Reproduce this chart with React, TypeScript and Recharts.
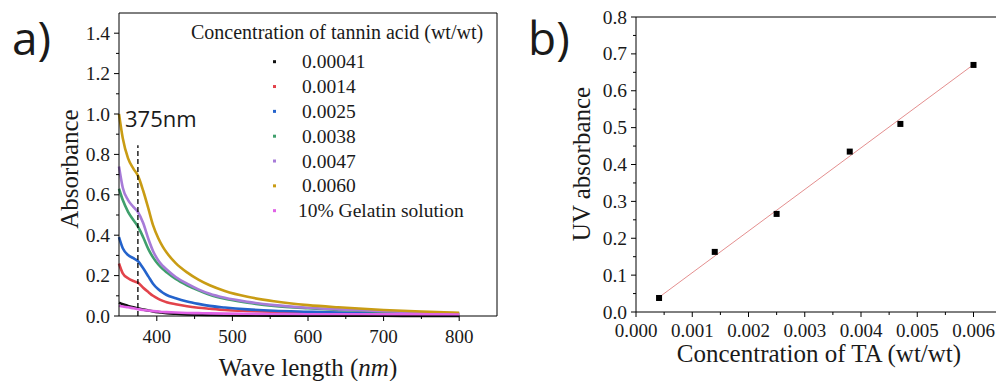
import React from "react";
import {
  LineChart, Line, XAxis, YAxis, ReferenceLine, ComposedChart, Scatter,
} from "recharts";

const SERIF = '"Liberation Serif", "Times New Roman", serif';
const SANS = '"Open Sans", sans-serif';
const INK = "#1a1a1a";

// ---- panel a) UV-vis spectra
const WAVELENGTH = [350, 355, 362, 369, 375, 382, 389, 395, 402, 408, 413, 425, 440, 455, 470, 490, 520, 555, 600, 640, 700, 750, 800];
const TA_00041 = [0.066, 0.058, 0.05, 0.043, 0.038, 0.032, 0.027, 0.023, 0.019, 0.016, 0.014, 0.011, 0.008, 0.006, 0.005, 0.004, 0.003, 0.002, 0.002, 0.001, 0.001, 0, 0];
const TA_0014 = [0.26, 0.211, 0.187, 0.173, 0.165, 0.14, 0.118, 0.1, 0.085, 0.075, 0.068, 0.058, 0.048, 0.041, 0.036, 0.03, 0.025, 0.021, 0.017, 0.014, 0.011, 0.008, 0.006];
const TA_0025 = [0.39, 0.335, 0.302, 0.286, 0.272, 0.236, 0.195, 0.16, 0.132, 0.115, 0.104, 0.088, 0.072, 0.06, 0.05, 0.042, 0.033, 0.026, 0.021, 0.017, 0.013, 0.01, 0.008];
const TA_0038 = [0.63, 0.574, 0.516, 0.475, 0.443, 0.39, 0.33, 0.29, 0.255, 0.232, 0.216, 0.183, 0.152, 0.127, 0.105, 0.085, 0.066, 0.05, 0.038, 0.03, 0.021, 0.015, 0.011];
const TA_0047 = [0.74, 0.635, 0.574, 0.54, 0.515, 0.46, 0.38, 0.322, 0.275, 0.248, 0.23, 0.193, 0.16, 0.132, 0.11, 0.09, 0.07, 0.054, 0.041, 0.033, 0.024, 0.017, 0.013];
const TA_0060 = [1.0, 0.88, 0.78, 0.73, 0.695, 0.62, 0.53, 0.45, 0.385, 0.342, 0.314, 0.262, 0.216, 0.18, 0.152, 0.124, 0.095, 0.073, 0.054, 0.043, 0.03, 0.022, 0.016];
const GELATIN = [0.051, 0.047, 0.043, 0.038, 0.034, 0.03, 0.027, 0.024, 0.022, 0.02, 0.019, 0.017, 0.015, 0.014, 0.013, 0.012, 0.011, 0.01, 0.009, 0.009, 0.008, 0.008, 0.007];

const SPECTRA = [
  { key: "s1", label: "0.00041", color: "#111111", values: TA_00041 },
  { key: "s2", label: "0.0014", color: "#e2434b", values: TA_0014 },
  { key: "s3", label: "0.0025", color: "#2463cc", values: TA_0025 },
  { key: "s4", label: "0.0038", color: "#3f9f6c", values: TA_0038 },
  { key: "s5", label: "0.0047", color: "#a77bd8", values: TA_0047 },
  { key: "s6", label: "0.0060", color: "#c99c14", values: TA_0060 },
  { key: "s7", label: "10% Gelatin solution", color: "#e062e6", values: GELATIN },
];

const WL_TICKS = [400, 450, 500, 550, 600, 650, 700, 750, 800];
const ABS_TICKS = [0, 0.1, 0.2, 0.3, 0.4, 0.5, 0.6, 0.7, 0.8, 0.9, 1.0, 1.1, 1.2, 1.3, 1.4];

// ---- panel b) calibration
const CONC = [0.00041, 0.0014, 0.0025, 0.0038, 0.0047, 0.006];
const UV_ABS = [0.038, 0.163, 0.266, 0.435, 0.51, 0.67];
const FIT_CONC = [0.00041, 0.006];
const FIT_ABS = [0.04, 0.671];
const CONC_TICKS = [0, 0.0005, 0.001, 0.0015, 0.002, 0.0025, 0.003, 0.0035, 0.004, 0.0045, 0.005, 0.0055, 0.006];
const UV_TICKS = [0, 0.05, 0.1, 0.15, 0.2, 0.25, 0.3, 0.35, 0.4, 0.45, 0.5, 0.55, 0.6, 0.65, 0.7, 0.75, 0.8];

const spectraRows = WAVELENGTH.map((wl, i) => {
  const row: Record<string, number> = { wl };
  SPECTRA.forEach((s) => { row[s.key] = s.values[i]; });
  return row;
});
const pointRows = CONC.map((x, i) => ({ x, y: UV_ABS[i] }));
const fitRows = FIT_CONC.map((x, i) => ({ x, y: FIT_ABS[i] }));

// ticks drawn by hand so major / minor get different lengths
const bottomTick = (isMajor: (v: number) => boolean, fmt: (v: number) => string, dy: number) =>
  (props: any) => {
    const { x, y, payload } = props;
    const major = isMajor(payload.value);
    return (
      <g>
        <line x1={x} x2={x} y1={y} y2={y + (major ? 5 : 3)} stroke="#000" strokeWidth={1} />
        {major && (
          <text x={x} y={y + dy} textAnchor="middle" fontFamily={SERIF} fontSize={19} fill={INK}>
            {fmt(payload.value)}
          </text>
        )}
      </g>
    );
  };

const leftTick = (isMajor: (v: number) => boolean, fmt: (v: number) => string) =>
  (props: any) => {
    const { x, y, payload } = props;
    const major = isMajor(payload.value);
    return (
      <g>
        <line x1={x - (major ? 5 : 3)} x2={x} y1={y} y2={y} stroke="#000" strokeWidth={1} />
        {major && (
          <text x={x - 9} y={y + 6.5} textAnchor="end" fontFamily={SERIF} fontSize={19.5} fill={INK}>
            {fmt(payload.value)}
          </text>
        )}
      </g>
    );
  };

function SpectraChart() {
  return (
    <LineChart width={520} height={381} data={spectraRows} margin={{ top: 13, right: 23, bottom: 0, left: 0 }}>
      <XAxis
        dataKey="wl" type="number" domain={[350, 850]} ticks={WL_TICKS} interval={0}
        height={65} tickSize={0} tickMargin={0} tickLine={false}
        axisLine={{ stroke: "#000" }}
        tick={bottomTick((v) => v % 100 === 0, (v) => String(v), 27)}
      />
      <YAxis
        type="number" domain={[0, 1.5]} ticks={ABS_TICKS} interval={0}
        width={119} tickSize={0} tickMargin={0} tickLine={false}
        axisLine={{ stroke: "#000" }}
        tick={leftTick((v) => Math.round(v * 10) % 2 === 0, (v) => v.toFixed(1))}
      />
      <ReferenceLine y={1.5} stroke="#000" />
      <ReferenceLine x={850} stroke="#000" />
      {SPECTRA.map((s) => (
        <Line
          key={s.key} type="monotone" dataKey={s.key} stroke={s.color}
          strokeWidth={2.6} dot={false} isAnimationActive={false}
        />
      ))}
      <ReferenceLine
        segment={[{ x: 375, y: 0 }, { x: 375, y: 0.845 }]}
        stroke="#000" strokeWidth={1.3} strokeDasharray="5 3"
      />
    </LineChart>
  );
}

function CalibrationChart() {
  return (
    <ComposedChart width={466} height={381} margin={{ top: 17, right: 0, bottom: 0, left: 0 }}>
      <XAxis
        dataKey="x" type="number" domain={[0, 0.0064]} ticks={CONC_TICKS} interval={0}
        height={69} tickSize={0} tickMargin={0} tickLine={false}
        axisLine={{ stroke: "#000" }}
        tick={bottomTick((v) => Math.round(v * 10000) % 10 === 0, (v) => v.toFixed(3), 25)}
      />
      <YAxis
        type="number" domain={[0, 0.8]} ticks={UV_TICKS} interval={0}
        width={106} tickSize={0} tickMargin={0} tickLine={false}
        axisLine={{ stroke: "#000" }}
        tick={leftTick((v) => Math.round(v * 100) % 10 === 0, (v) => v.toFixed(1))}
      />
      <ReferenceLine y={0.8} stroke="#000" />
      <Line
        data={fitRows} dataKey="y" type="linear" stroke="#e48f8f" strokeWidth={1}
        dot={false} isAnimationActive={false}
      />
      <Scatter
        data={pointRows} dataKey="y" fill="#000" isAnimationActive={false}
        shape={(p: any) => <rect x={p.cx - 3} y={p.cy - 3} width={6} height={6} fill="#000" />}
      />
    </ComposedChart>
  );
}

export default function App() {
  return (
    <div style={{ position: "absolute", left: 0, top: 0, width: 996, height: 381, overflow: "hidden", background: "#fff" }}>
      <div style={{ position: "absolute", left: 0, top: 0 }}>
        <SpectraChart />
      </div>
      <div style={{ position: "absolute", left: 530, top: 0 }}>
        <CalibrationChart />
      </div>
      <svg width={996} height={381} style={{ position: "absolute", left: 0, top: 0, pointerEvents: "none" }}>
        <text x={12} y={55} fontFamily={SANS} fontSize={46} fill={INK}>a)</text>
        <text x={528} y={55} fontFamily={SANS} fontSize={46} fill={INK}>b)</text>
        <text x={125} y={126.7} fontFamily={SANS} fontSize={22} fill={INK}>375nm</text>

        <text x={191} y={39} fontFamily={SERIF} fontSize={20} fill={INK}>
          Concentration of tannin acid (wt/wt)
        </text>
        {SPECTRA.map((s, i) => {
          const cy = 61.7 + i * 24.83;
          return (
            <g key={s.key}>
              <rect x={273} y={cy - 1.5} width={3} height={3} fill={s.color} />
              <text x={i === 6 ? 298 : 302} y={cy + 6.6} fontFamily={SERIF} fontSize={19.5} fill={INK}>
                {s.label}
              </text>
            </g>
          );
        })}

        <text x={308} y={376} textAnchor="middle" fontFamily={SERIF} fontSize={25} fill={INK}>
          Wave length (<tspan fontStyle="italic">nm</tspan>)
        </text>
        <text transform="translate(78,169) rotate(-90)" textAnchor="middle" fontFamily={SERIF} fontSize={25} fill={INK}>
          Absorbance
        </text>
        <text x={819} y={362} textAnchor="middle" fontFamily={SERIF} fontSize={25} fill={INK}>
          Concentration of TA (wt/wt)
        </text>
        <text transform="translate(590,164) rotate(-90)" textAnchor="middle" fontFamily={SERIF} fontSize={25} fill={INK}>
          UV absorbance
        </text>
      </svg>
    </div>
  );
}
